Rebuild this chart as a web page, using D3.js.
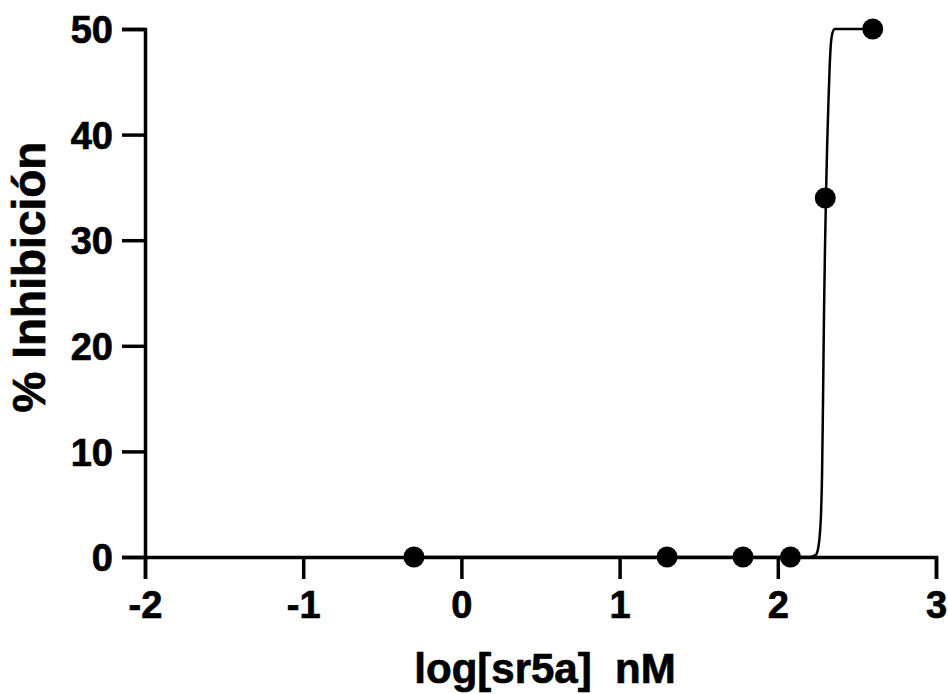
<!DOCTYPE html>
<html>
<head>
<meta charset="utf-8">
<script src="https://cdn.jsdelivr.net/npm/d3@7"></script>
<style>
  body { margin: 0; background: #fff; }
  svg text { font-family: "Liberation Sans", Arial, sans-serif; font-weight: bold; fill: #000; stroke: #000; stroke-width: 0.7px; }
</style>
</head>
<body>
<div id="chart"></div>
<script>
// measured points: log concentration (nM) vs % inhibition
var logConc = [-0.3, 1.3, 1.78, 2.08, 2.3, 2.6];
var inhibition = [0, 0, 0, 0, 34, 50];

// fitted curve
var curveX = [-0.3, 2.2, 2.24, 2.255, 2.265, 2.273, 2.28, 2.286, 2.292, 2.298, 2.305, 2.312, 2.32, 2.328, 2.336, 2.345, 2.36, 2.6];
var curveY = [0, 0, 0.2, 0.8, 2, 4, 8, 15, 23, 29, 34.5, 39, 43, 46.5, 48.7, 49.6, 50, 50];

var xTicks = [-2, -1, 0, 1, 2, 3];
var yTicks = [0, 10, 20, 30, 40, 50];

var width = 948, height = 694;
var margin = {left: 145, right: 12, top: 29, bottom: 137};

var svg = d3.select("#chart").append("svg")
    .attr("width", width)
    .attr("height", height);

var x = d3.scaleLinear().domain([-2, 3]).range([margin.left, width - margin.right]);
var y = d3.scaleLinear().domain([0, 50]).range([height - margin.bottom, margin.top]);

// x axis
var xAxis = svg.append("g")
    .attr("transform", "translate(0," + y(0) + ")")
    .call(d3.axisBottom(x).tickValues(xTicks).tickSize(22).tickPadding(12).tickFormat(d3.format("d")));

// y axis
var yAxis = svg.append("g")
    .attr("transform", "translate(" + x(-2) + ",0)")
    .call(d3.axisLeft(y).tickValues(yTicks).tickSize(23).tickPadding(9).tickFormat(d3.format("d")));

[xAxis, yAxis].forEach(function(g) {
    g.select(".domain").attr("stroke", "#000").attr("stroke-width", 3.5);
    g.selectAll(".tick line").attr("stroke", "#000").attr("stroke-width", 3.5);
    g.selectAll(".tick text").style("font-size", "38px").attr("fill", "#000");
});
xAxis.selectAll(".tick text").text(function(d) { return d < 0 ? "-" + Math.abs(d) : d; });
yAxis.selectAll(".tick text").attr("dy", "0.36em");

// fitted curve
var curveData = curveX.map(function(v, i) { return [v, curveY[i]]; });
var line = d3.line()
    .x(function(d) { return x(d[0]); })
    .y(function(d) { return y(d[1]); })
    .curve(d3.curveMonotoneX);

svg.append("path")
    .datum(curveData)
    .attr("fill", "none")
    .attr("stroke", "#000")
    .attr("stroke-width", 2.5)
    .attr("d", line);

// points
svg.selectAll("circle.pt")
    .data(logConc.map(function(v, i) { return [v, inhibition[i]]; }))
    .enter().append("circle")
    .attr("class", "pt")
    .attr("cx", function(d) { return x(d[0]); })
    .attr("cy", function(d) { return y(d[1]); })
    .attr("r", 10.5)
    .attr("fill", "#000");

// axis titles
svg.append("text")
    .attr("x", 545)
    .attr("y", 683)
    .attr("text-anchor", "middle")
    .attr("xml:space", "preserve")
    .style("font-size", "42px")
    .style("white-space", "pre")
    .text("log[sr5a]  nM");

svg.append("text")
    .attr("transform", "translate(45,277) rotate(-90)")
    .attr("text-anchor", "middle")
    .style("font-size", "46px")
    .text("% Inhibición");
</script>
</body>
</html>
